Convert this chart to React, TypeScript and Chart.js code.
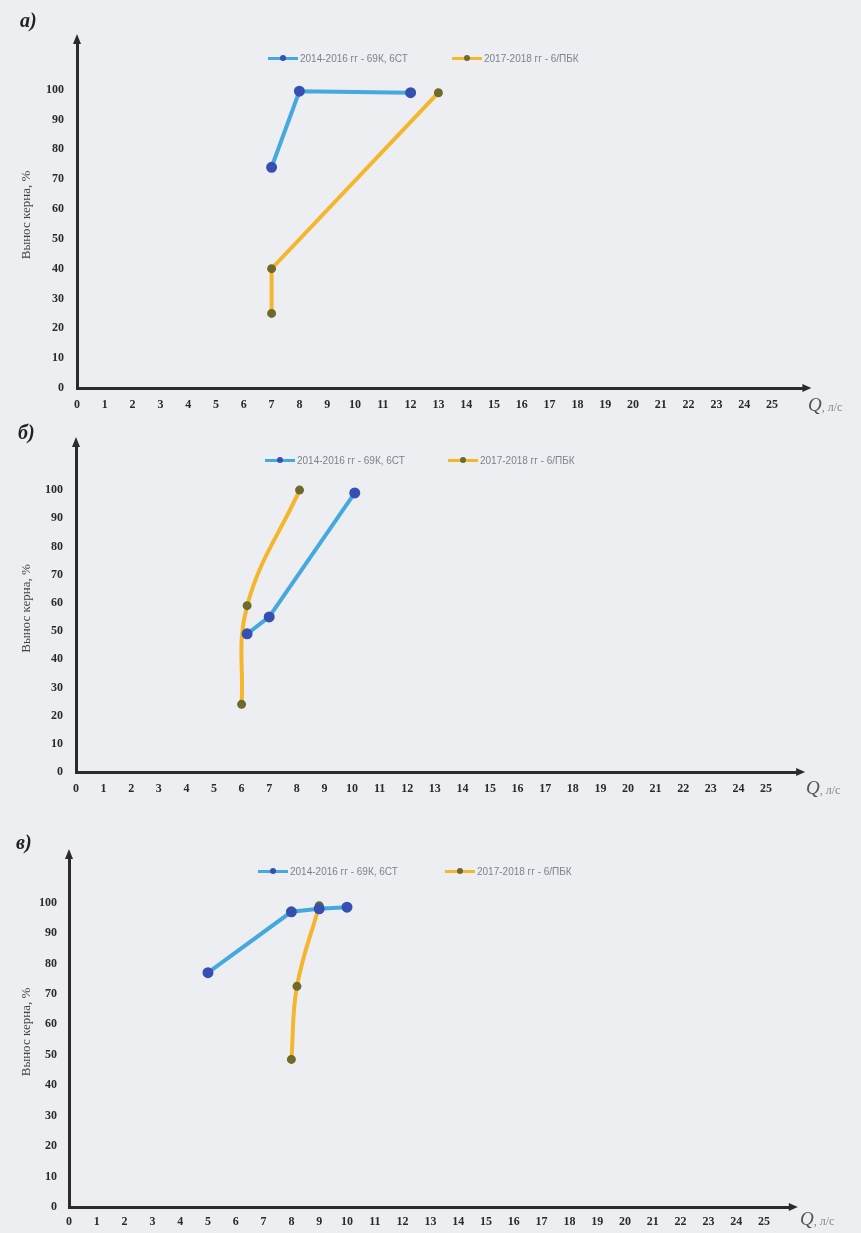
import React, { useEffect, useRef } from 'react';
import { Chart, registerables } from 'chart.js';

Chart.register(...registerables);

// ---- data ----
const legendLabels = ['2014-2016 гг - 69К, 6СТ', '2017-2018 гг - 6/ПБК'];
const yAxisTitle = 'Вынос керна, %';
const xAxisUnit = ', л/с';
const panelLabels = ['а)', 'б)', 'в)'];

// chart а
const aBlueX = [7, 8, 12];
const aBlueY = [74, 99.5, 99];
const aOrangeX = [7, 7, 13];
const aOrangeY = [25, 40, 99];

// chart б
const bBlueX = [6.2, 7, 10.1];
const bBlueY = [49, 55, 99];
const bOrangeX = [6, 6.2, 8.1];
const bOrangeY = [24, 59, 100];

// chart в
const cBlueX = [5, 8, 9, 10];
const cBlueY = [77, 97, 98, 98.5];
const cOrangeX = [8, 8.2, 9];
const cOrangeY = [48.5, 72.5, 99];

const xTickMax = 25;
const yTickMax = 100;

const BLUE = '#45a9de';
const BLUE_PT = '#3550b0';
const ORANGE = '#f4b62c';
const ORANGE_PT = '#6e6a2c';
const AXIS = '#2b2b2b';
const BG = '#eceef2';
const SERIF = '"Liberation Serif", "DejaVu Serif", serif';

type Spec = {
  top: number; height: number; plotLeft: number; plotTop: number; plotBottom: number;
  xMax: number; ppu: number; yMax: number;
  blueX: number[]; blueY: number[]; orangeX: number[]; orangeY: number[];
  orangeTension: number; yPad: number; xPad: number;
  label: string; labelTop: number; labelLeft: number;
  legendY: number; blueLegX: number; orangeLegX: number;
  qX: number; qY: number;
};

const specs: Spec[] = [
  {
    top: 0, height: 430, plotLeft: 77, plotTop: 42, plotBottom: 388,
    xMax: 26.2, ppu: 27.8, yMax: 116,
    blueX: aBlueX, blueY: aBlueY, orangeX: aOrangeX, orangeY: aOrangeY,
    orangeTension: 0, yPad: 13, xPad: 10,
    label: panelLabels[0], labelTop: 8, labelLeft: 20,
    legendY: 58, blueLegX: 268, orangeLegX: 452, qX: 808, qY: 394,
  },
  {
    top: 420, height: 400, plotLeft: 76, plotTop: 445, plotBottom: 772,
    xMax: 26.2, ppu: 27.6, yMax: 116,
    blueX: bBlueX, blueY: bBlueY, orangeX: bOrangeX, orangeY: bOrangeY,
    orangeTension: 0.4, yPad: 13, xPad: 10,
    label: panelLabels[1], labelTop: 420, labelLeft: 18,
    legendY: 460, blueLegX: 265, orangeLegX: 448, qX: 806, qY: 777,
  },
  {
    top: 820, height: 413, plotLeft: 69, plotTop: 857, plotBottom: 1207,
    xMax: 26, ppu: 27.8, yMax: 115,
    blueX: cBlueX, blueY: cBlueY, orangeX: cOrangeX, orangeY: cOrangeY,
    orangeTension: 0.4, yPad: 12, xPad: 8,
    label: panelLabels[2], labelTop: 830, labelLeft: 16,
    legendY: 871, blueLegX: 258, orangeLegX: 445, qX: 800, qY: 1208,
  },
];

const arrowPlugin = {
  id: 'axisArrows',
  afterDraw(chart: any) {
    const { ctx, chartArea } = chart;
    const { left, right, top, bottom } = chartArea;
    ctx.save();
    ctx.fillStyle = AXIS;
    ctx.beginPath();
    ctx.moveTo(left, top - 8);
    ctx.lineTo(left - 4, top + 2);
    ctx.lineTo(left + 4, top + 2);
    ctx.closePath();
    ctx.fill();
    ctx.beginPath();
    ctx.moveTo(right + 6, bottom);
    ctx.lineTo(right - 3, bottom - 4);
    ctx.lineTo(right - 3, bottom + 4);
    ctx.closePath();
    ctx.fill();
    ctx.restore();
  },
};

function toPoints(xs: number[], ys: number[]) {
  return xs.map((x, i) => ({ x, y: ys[i] }));
}

function Panel({ s }: { s: Spec }) {
  const ref = useRef<HTMLCanvasElement>(null);
  useEffect(() => {
    if (!ref.current) return;
    const plotRight = s.plotLeft + s.xMax * s.ppu;
    const chart = new Chart(ref.current, {
      type: 'scatter',
      data: {
        datasets: [
          {
            label: legendLabels[0],
            data: toPoints(s.blueX, s.blueY),
            showLine: true,
            borderColor: BLUE,
            borderWidth: 4,
            backgroundColor: BLUE_PT,
            pointBackgroundColor: BLUE_PT,
            pointBorderColor: BLUE_PT,
            pointRadius: 3.5,
            tension: 0,
          },
          {
            label: legendLabels[1],
            data: toPoints(s.orangeX, s.orangeY),
            showLine: true,
            borderColor: ORANGE,
            borderWidth: 4,
            backgroundColor: ORANGE_PT,
            pointBackgroundColor: ORANGE_PT,
            pointBorderColor: ORANGE_PT,
            pointRadius: 2.5,
            tension: s.orangeTension,
          },
        ],
      },
      options: {
        responsive: false,
        animation: false,
        devicePixelRatio: 1,
        layout: {
          padding: { left: 0, right: 861 - plotRight, top: s.plotTop - s.top, bottom: 0 },
        },
        plugins: { legend: { display: false }, tooltip: { enabled: false } },
        scales: {
          x: {
            type: 'linear',
            min: 0,
            max: s.xMax,
            afterFit: (sc: any) => { sc.height = s.height - (s.plotBottom - s.top); },
            grid: { display: false, drawTicks: false },
            border: { display: true, width: 3, color: AXIS },
            ticks: {
              stepSize: 1,
              autoSkip: false,
              maxRotation: 0,
              padding: s.xPad,
              color: '#2a2a2a',
              font: { family: SERIF, size: 12, weight: 'bold' },
              callback: (v: any) => (Number(v) <= xTickMax && Number.isInteger(Number(v)) ? String(v) : ''),
            },
          },
          y: {
            type: 'linear',
            min: 0,
            max: s.yMax,
            afterFit: (sc: any) => { sc.width = s.plotLeft; },
            grid: { display: false, drawTicks: false },
            border: { display: true, width: 3, color: AXIS },
            title: {
              display: true,
              text: yAxisTitle,
              color: '#444',
              font: { family: SERIF, size: 13 },
              padding: { top: 19, bottom: 0 },
            },
            ticks: {
              stepSize: 10,
              padding: s.yPad,
              color: '#2a2a2a',
              font: { family: SERIF, size: 12, weight: 'bold' },
              callback: (v: any) => (Number(v) <= yTickMax ? String(v) : ''),
            },
          },
        },
      },
      plugins: [arrowPlugin],
    } as any);
    return () => chart.destroy();
  }, [s]);

  const legendItem = (x: number, color: string, pt: string, text: string) => (
    <div style={{ position: 'absolute', left: x, top: s.legendY - 7, display: 'flex', alignItems: 'center', height: 14 }}>
      <div style={{ position: 'relative', width: 30, height: 3, background: color }}>
        <div style={{ position: 'absolute', left: 12, top: -2, width: 6, height: 6, borderRadius: 3, background: pt }} />
      </div>
      <span style={{ marginLeft: 2, fontFamily: '"Liberation Sans", Arial, sans-serif', fontSize: 10, color: '#7d828c', whiteSpace: 'nowrap' }}>{text}</span>
    </div>
  );

  return (
    <>
      <canvas ref={ref} width={861} height={s.height} style={{ position: 'absolute', left: 0, top: s.top, width: 861, height: s.height }} />
      <div style={{ position: 'absolute', left: s.labelLeft, top: s.labelTop, fontFamily: SERIF, fontWeight: 'bold', fontStyle: 'italic', fontSize: 20, color: '#222', lineHeight: '24px' }}>{s.label}</div>
      {legendItem(s.blueLegX, BLUE, BLUE_PT, legendLabels[0])}
      {legendItem(s.orangeLegX, ORANGE, ORANGE_PT, legendLabels[1])}
      <div style={{ position: 'absolute', left: s.qX, top: s.qY, fontFamily: SERIF, color: '#555', whiteSpace: 'nowrap', lineHeight: '22px' }}>
        <span style={{ fontStyle: 'italic', fontSize: 19 }}>Q</span>
        <span style={{ fontSize: 12, color: '#888' }}>{xAxisUnit}</span>
      </div>
    </>
  );
}

export default function App() {
  return (
    <div style={{ position: 'absolute', left: 0, top: 0, width: 861, height: 1233, background: BG, overflow: 'hidden' }}>
      {specs.map((s, i) => <Panel key={i} s={s} />)}
    </div>
  );
}
